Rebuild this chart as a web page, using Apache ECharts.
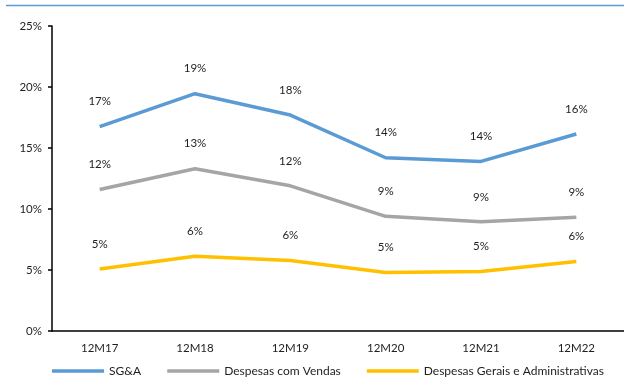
<!DOCTYPE html>
<html>
<head>
<meta charset="utf-8">
<script src="https://cdn.jsdelivr.net/npm/echarts@6/dist/echarts.min.js"></script>
<style>
  html, body { margin: 0; padding: 0; background: #fff; }
  #chart { width: 624px; height: 383px; }
</style>
</head>
<body>
<div id="chart"></div>
<script>
// Periods (trailing twelve months)
const categories = ['12M17', '12M18', '12M19', '12M20', '12M21', '12M22'];

// Expense ratios over net revenue
const sgaValues = [0.1675, 0.1945, 0.1770, 0.1420, 0.1390, 0.1615];
const vendasValues = [0.1160, 0.1330, 0.1190, 0.0940, 0.0895, 0.0933];
const geraisValues = [0.0508, 0.0612, 0.0577, 0.0480, 0.0488, 0.0570];

// Y axis tick labels
const yTicks = ['0%', '5%', '10%', '15%', '20%', '25%'];

const FONT = 'Lato, "Open Sans", sans-serif';
const TEXT = '#1e1e1e';

function lineSeries(name, data, color) {
  return {
    name: name,
    type: 'line',
    data: data,
    symbol: 'circle',
    symbolSize: 0,
    showSymbol: true,
    lineStyle: { color: color, width: 3.5 },
    itemStyle: { color: color },
    label: {
      show: true,
      position: 'top',
      distance: 19,
      color: TEXT,
      fontFamily: FONT,
      fontSize: 11.5,
      formatter: p => Math.round(p.value * 100) + '%'
    },
    labelLayout: { hideOverlap: false },
    emphasis: { disabled: true }
  };
}

const chart = echarts.init(document.getElementById('chart'), null, { renderer: 'canvas' });
chart.setOption({
  animation: false,
  graphic: [{
    type: 'line',
    shape: { x1: 6, y1: 5.5, x2: 624, y2: 5.5 },
    style: { stroke: '#5B9BD5', lineWidth: 1.5 }
  }],
  grid: { left: 52, right: 0, top: 26, bottom: 52 },
  legend: {
    left: 52,
    top: 365,
    padding: 0,
    icon: 'rect',
    itemWidth: 52,
    itemHeight: 3.5,
    itemGap: 26,
    textStyle: { color: TEXT, fontFamily: FONT, fontSize: 12 },
    data: ['SG&A', 'Despesas com Vendas', 'Despesas Gerais e Administrativas']
  },
  xAxis: {
    type: 'category',
    data: categories,
    boundaryGap: true,
    axisLine: { lineStyle: { color: '#000', width: 1.5 } },
    axisTick: { alignWithLabel: true, length: 4, lineStyle: { color: '#000', width: 1.5 } },
    axisLabel: { color: TEXT, fontFamily: FONT, fontSize: 11.5, margin: 11 }
  },
  yAxis: {
    type: 'value',
    min: 0,
    max: 0.25,
    interval: 0.05,
    splitLine: { show: false },
    axisLine: { show: true, lineStyle: { color: '#000', width: 1.5 } },
    axisTick: { show: true, length: 4, lineStyle: { color: '#000', width: 1.5 } },
    axisLabel: {
      color: TEXT, fontFamily: FONT, fontSize: 11.5, margin: 10,
      formatter: v => yTicks[Math.round(v / 0.05)]
    }
  },
  series: [
    lineSeries('SG&A', sgaValues, '#5B9BD5'),
    lineSeries('Despesas com Vendas', vendasValues, '#A5A5A5'),
    lineSeries('Despesas Gerais e Administrativas', geraisValues, '#FFC000')
  ]
});
</script>
</body>
</html>
